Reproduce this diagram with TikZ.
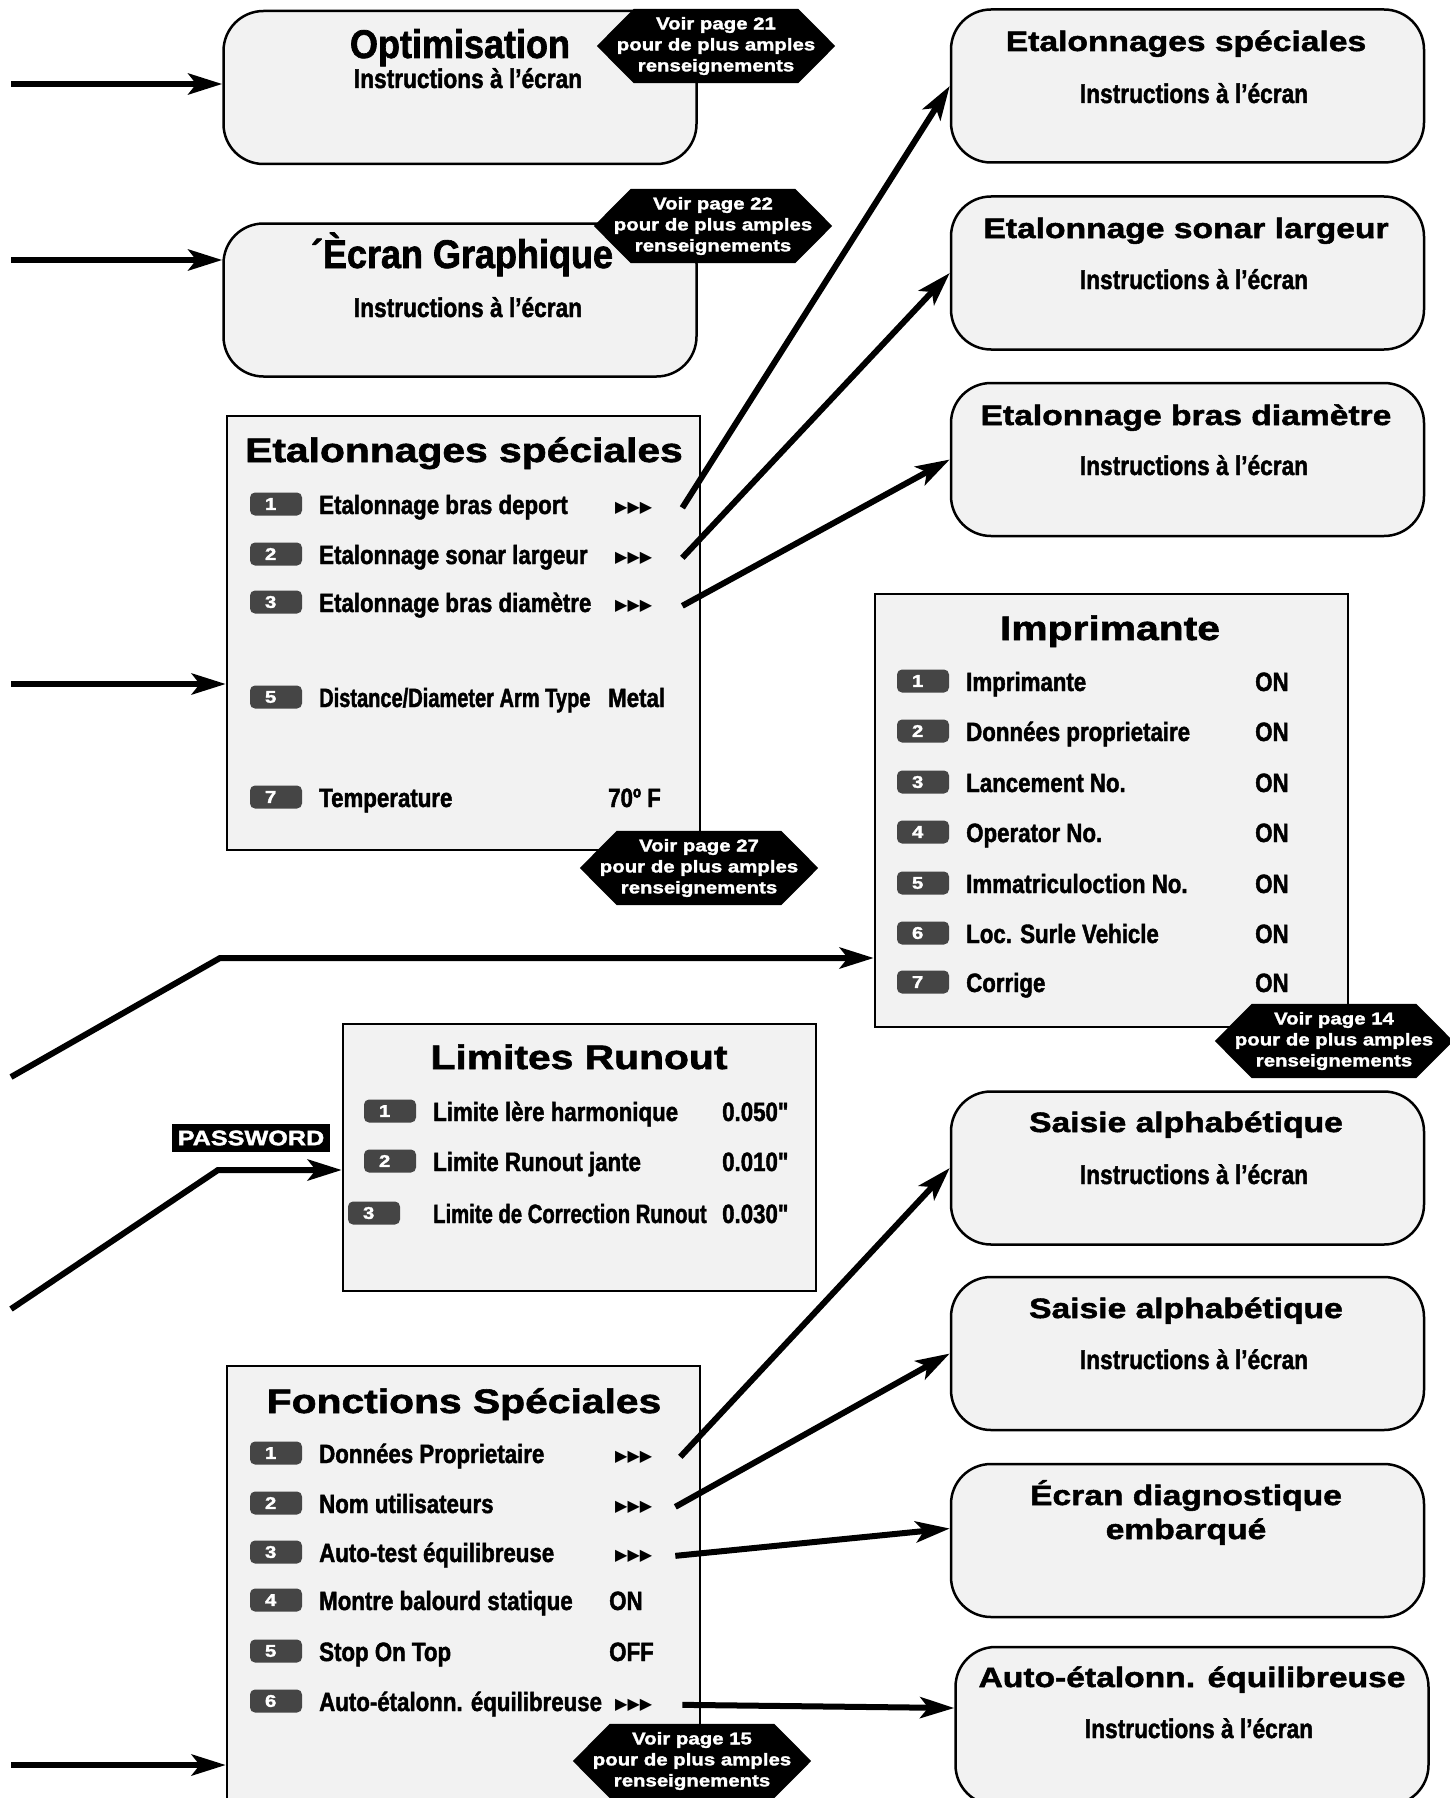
\documentclass[tikz,border=0pt]{standalone}
\usepackage{fontspec}
\usepackage{graphicx}
\setmainfont{Liberation Sans}
\newfontfamily\condfont[FakeStretch=0.84,FakeBold=1.6]{Liberation Sans}
\newfontfamily\headfont[FakeStretch=0.9,FakeBold=1.6]{Liberation Sans}
\newfontfamily\widefont[FakeStretch=1.2,FakeBold=1.8]{Liberation Sans}
\newfontfamily\symfont{DejaVu Sans}
\usetikzlibrary{arrows.meta}
\definecolor{panel}{gray}{0.95}
\definecolor{keygray}{gray}{0.27}

\begin{document}
\begin{tikzpicture}[x=1pt,y=-1pt,
  panelbox/.style={draw,line width=2.5pt,fill=panel,inner sep=0pt},
  roundbox/.style={panelbox,rounded corners=40pt,minimum width=473pt,minimum height=153pt},
  numkey/.style={fill=keygray,rounded corners=5pt,text=white,font=\widefont\bfseries\fontsize{17}{17}\selectfont,
    text width=22pt,align=left,inner xsep=15pt,inner ysep=0pt,minimum height=23pt},
  lbl/.style={anchor=base west,inner sep=0pt,font=\condfont\bfseries\fontsize{26.5}{26.5}\selectfont},
  more/.style={anchor=base west,inner sep=0pt,font=\symfont\fontsize{16}{16}\selectfont},
  scrtitle/.style={anchor=base,inner sep=0pt,font=\widefont\bfseries\fontsize{34}{34}\selectfont},
  boxtitle/.style={anchor=base,inner sep=0pt,font=\widefont\bfseries\fontsize{28}{28}\selectfont},
  condtitle/.style={anchor=base,inner sep=0pt,font=\headfont\bfseries\fontsize{40}{40}\selectfont},
  instr/.style={anchor=base,inner sep=0pt,font=\condfont\bfseries\fontsize{27}{27}\selectfont},
  voirbox/.style={minimum width=238pt,minimum height=74pt,inner sep=0pt},
  voirtxt/.style={text=white,align=center,inner sep=0pt,font=\widefont\bfseries\fontsize{17}{21}\selectfont},
  conn/.style={line width=6pt,-{Stealth[length=34pt,width=21pt,inset=8pt]}}]
\useasboundingbox (0,0) rectangle (1450,1798);

% left column: rounded screens
\node[roundbox] (optim) at (460,87.5) {};
\node[condtitle] (optim-title) at (460,58) {Optimisation};
\node[instr] (optim-instr) at (468,88) {Instructions à l’écran};

\node[roundbox] (graph) at (460,300) {};
\node[condtitle] (graph-title) at (462,268) {´Ècran Graphique};
\node[instr] (graph-instr) at (468,317) {Instructions à l’écran};

% Etalonnages speciales menu
\node[panelbox,minimum width=473pt,minimum height=434pt] (es) at (463.5,633) {};
\node[scrtitle] (es-title) at (464,462) {Etalonnages spéciales};
\node[numkey] (es-k1) at (276,504) {1};
\node[lbl] (es-l1) at (319,514) {Etalonnage bras deport};
\node[more] (es-m1) at (615,512) {▶▶▶};
\node[numkey] (es-k2) at (276,554) {2};
\node[lbl] (es-l2) at (319,564) {Etalonnage sonar largeur};
\node[more] (es-m2) at (615,562) {▶▶▶};
\node[numkey] (es-k3) at (276,602) {3};
\node[lbl] (es-l3) at (319,612) {Etalonnage bras diamètre};
\node[more] (es-m3) at (615,610) {▶▶▶};
\node[numkey] (es-k5) at (276,697) {5};
\node[lbl] (es-l5) at (319,707) {\scalebox{0.9}[1]{Distance/Diameter Arm Type}};
\node[lbl] (es-v5) at (608,707) {Metal};
\node[numkey] (es-k7) at (276,797) {7};
\node[lbl] (es-l7) at (319,807) {Temperature};
\node[lbl] (es-v7) at (608,807) {70º F};

% Imprimante menu
\node[panelbox,minimum width=473pt,minimum height=433pt] (imp) at (1111.5,810.5) {};
\node[scrtitle] (imp-title) at (1110,640) {Imprimante};
\node[numkey] (imp-k1) at (923,681) {1};
\node[lbl] (imp-l1) at (966,691) {Imprimante};
\node[lbl] (imp-v1) at (1255,691) {ON};
\node[numkey] (imp-k2) at (923,731) {2};
\node[lbl] (imp-l2) at (966,741) {Données proprietaire};
\node[lbl] (imp-v2) at (1255,741) {ON};
\node[numkey] (imp-k3) at (923,782) {3};
\node[lbl] (imp-l3) at (966,792) {Lancement No.};
\node[lbl] (imp-v3) at (1255,792) {ON};
\node[numkey] (imp-k4) at (923,832) {4};
\node[lbl] (imp-l4) at (966,842) {Operator No.};
\node[lbl] (imp-v4) at (1255,842) {ON};
\node[numkey] (imp-k5) at (923,883) {5};
\node[lbl] (imp-l5) at (966,893) {Immatriculoction No.};
\node[lbl] (imp-v5) at (1255,893) {ON};
\node[numkey] (imp-k6) at (923,933) {6};
\node[lbl] (imp-l6) at (966,943) {Loc. Surle Vehicle};
\node[lbl] (imp-v6) at (1255,943) {ON};
\node[numkey] (imp-k7) at (923,982) {7};
\node[lbl] (imp-l7) at (966,992) {Corrige};
\node[lbl] (imp-v7) at (1255,992) {ON};

% Limites Runout menu
\node[panelbox,minimum width=473pt,minimum height=267pt] (lim) at (579.5,1157.5) {};
\node[scrtitle] (lim-title) at (579,1069) {Limites Runout};
\node[numkey] (lim-k1) at (390,1111) {1};
\node[lbl] (lim-l1) at (433,1121) {Limite lère harmonique};
\node[lbl] (lim-v1) at (722,1121) {0.050"};
\node[numkey] (lim-k2) at (390,1161) {2};
\node[lbl] (lim-l2) at (433,1171) {Limite Runout jante};
\node[lbl] (lim-v2) at (722,1171) {0.010"};
\node[numkey] (lim-k3) at (374,1213) {3};
\node[lbl] (lim-l3) at (433,1223) {\scalebox{0.91}[1]{Limite de Correction Runout}};
\node[lbl] (lim-v3) at (722,1223) {0.030"};

% Fonctions Speciales menu
\node[panelbox,minimum width=473pt,minimum height=450pt] (fs) at (463.5,1591) {};
\node[scrtitle] (fs-title) at (464,1413) {Fonctions Spéciales};
\node[numkey] (fs-k1) at (276,1453) {1};
\node[lbl] (fs-l1) at (319,1463) {Données Proprietaire};
\node[more] (fs-m1) at (615,1461) {▶▶▶};
\node[numkey] (fs-k2) at (276,1503) {2};
\node[lbl] (fs-l2) at (319,1513) {Nom utilisateurs};
\node[more] (fs-m2) at (615,1511) {▶▶▶};
\node[numkey] (fs-k3) at (276,1552) {3};
\node[lbl] (fs-l3) at (319,1562) {Auto-test équilibreuse};
\node[more] (fs-m3) at (615,1560) {▶▶▶};
\node[numkey] (fs-k4) at (276,1600) {4};
\node[lbl] (fs-l4) at (319,1610) {Montre balourd statique};
\node[lbl] (fs-v4) at (609,1610) {ON};
\node[numkey] (fs-k5) at (276,1651) {5};
\node[lbl] (fs-l5) at (319,1661) {Stop On Top};
\node[lbl] (fs-v5) at (609,1661) {OFF};
\node[numkey] (fs-k6) at (276,1701) {6};
\node[lbl] (fs-l6) at (319,1711) {Auto-étalonn. équilibreuse};
\node[more] (fs-m6) at (615,1709) {▶▶▶};

% right column: rounded screens
\node[roundbox] (rb1) at (1187.5,86) {};
\node[boxtitle] (rb1-title) at (1186,51) {Etalonnages spéciales};
\node[instr] (rb1-instr) at (1194,103) {Instructions à l’écran};
\node[roundbox] (rb2) at (1187.5,273) {};
\node[boxtitle] (rb2-title) at (1186,238) {Etalonnage sonar largeur};
\node[instr] (rb2-instr) at (1194,289) {Instructions à l’écran};
\node[roundbox] (rb3) at (1187.5,459.5) {};
\node[boxtitle] (rb3-title) at (1186,425) {Etalonnage bras diamètre};
\node[instr] (rb3-instr) at (1194,475) {Instructions à l’écran};
\node[roundbox] (rb4) at (1187.5,1168) {};
\node[boxtitle] (rb4-title) at (1186,1132) {Saisie alphabétique};
\node[instr] (rb4-instr) at (1194,1184) {Instructions à l’écran};
\node[roundbox] (rb5) at (1187.5,1353.5) {};
\node[boxtitle] (rb5-title) at (1186,1318) {Saisie alphabétique};
\node[instr] (rb5-instr) at (1194,1369) {Instructions à l’écran};
\node[roundbox] (rb6) at (1187.5,1540.5) {};
\node[boxtitle] (rb6-title) at (1186,1505) {Écran diagnostique};
\node[boxtitle] (rb6-title2) at (1186,1539) {embarqué};
\node[roundbox,minimum height=158pt] (rb7) at (1192,1726) {};
\node[boxtitle] (rb7-title) at (1192,1687) {Auto-étalonn. équilibreuse};
\node[instr] (rb7-instr) at (1199,1738) {Instructions à l’écran};

% page references
\foreach \nm/\pos/\pg in {v21/{716,46}/21,v22/{713,226}/22,v27/{699,868}/27,v14/{1334,1041}/14,v15/{692,1761}/15}{
  \node[voirbox] (\nm) at (\pos) {};
  \fill (\nm.west) -- ([xshift=37pt]\nm.north west) -- ([xshift=-37pt]\nm.north east) -- (\nm.east)
    -- ([xshift=-37pt]\nm.south east) -- ([xshift=37pt]\nm.south west) -- cycle;
  \node[voirtxt] (\nm-txt) at (\nm) {Voir page \pg\\pour de plus amples\\renseignements};
}

% incoming arrows
\coordinate (in1) at (11,84);
\coordinate (in2) at (11,260);
\coordinate (in3) at (11,684);
\coordinate (in4) at (11,1765);
\draw[conn] (in1) -- (in1 -| optim.west);
\draw[conn] (in2) -- (in2 -| graph.west);
\draw[conn] (in3) -- (in3 -| es.west);
\draw[conn] (in4) -- (in4 -| fs.west);

\coordinate (imp0) at (11,1077);
\coordinate (imp1) at (220,958);
\draw[conn] (imp0) -- (imp1) -- (imp1 -| imp.west);

\node[fill=black,text=white,inner sep=0pt,minimum width=158pt,minimum height=28pt,
  font=\widefont\bfseries\fontsize{21}{21}\selectfont] (pw) at (251,1138) {PASSWORD};
\coordinate (pw0) at (11,1309);
\coordinate (pw1) at (218,1170);
\draw[conn] (pw0) -- (pw1) -- (pw1 -| lim.west);

% menu arrows
\draw[conn] ([xshift=30pt]es-m1.east) -- (rb1.west);
\draw[conn] ([xshift=30pt]es-m2.east) -- (rb2.west);
\draw[conn] ([xshift=30pt]es-m3.east) -- (rb3.west);
\draw[conn] ([xshift=28pt]fs-m1.east) -- (rb4.west);
\draw[conn] ([xshift=23pt]fs-m2.east) -- (rb5.west);
\draw[conn] ([xshift=23pt]fs-m3.east) -- ([yshift=12pt]rb6.west);
\draw[conn] ([xshift=30pt]fs-m6.east) -- ([yshift=18pt]rb7.west);
\end{tikzpicture}
\end{document}
